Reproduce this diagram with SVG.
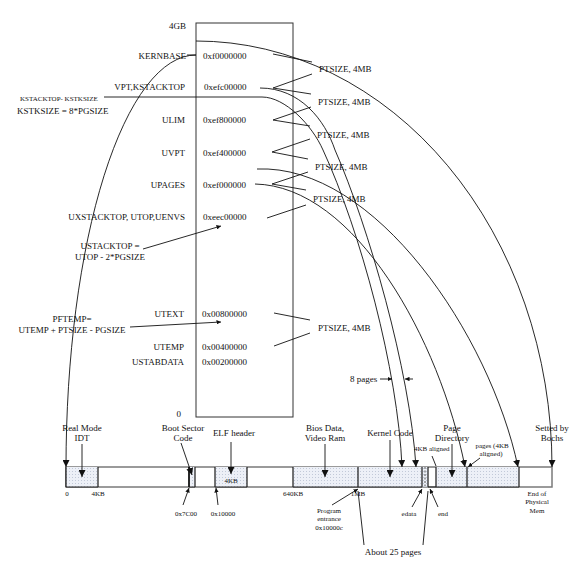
<svg xmlns="http://www.w3.org/2000/svg" width="588" height="568" viewBox="0 0 588 568">
<defs>
<style>
text{font-family:"Liberation Serif","Times New Roman",serif;fill:#111}
.t9{font-size:9px}
.t7{font-size:7px}
.e{text-anchor:end}
.m{text-anchor:middle}
.ln{fill:none;stroke:#111;stroke-width:0.9}
.seg{fill:url(#dots);stroke:none}
.dv{stroke:#1a1a1a;stroke-width:1.2}
.a{marker-end:url(#ah)}
.s{marker-end:url(#sa)}
</style>
<pattern id="dots" width="3" height="3" patternUnits="userSpaceOnUse"><rect width="3" height="3" fill="#edf0f7"/><rect width="1" height="1" fill="#c2c9d8"/></pattern>
<marker id="ah" viewBox="0 0 10 10" refX="10" refY="5" markerWidth="7" markerHeight="7" markerUnits="userSpaceOnUse" orient="auto"><path d="M0,0 L10,5 L0,10 z" fill="#111"/></marker>
<marker id="sa" viewBox="0 0 10 10" refX="10" refY="5" markerWidth="4.5" markerHeight="4.5" markerUnits="userSpaceOnUse" orient="auto"><path d="M0,0 L10,5 L0,10 z" fill="#111"/></marker>
</defs>
<rect width="588" height="568" fill="#fff"/>

<g id="virtual-memory">
<rect x="196" y="23" width="97" height="394" fill="none" stroke="#333" stroke-width="1"/>
<text class="t9 e" x="186" y="29">4GB</text>
<text class="t9 e" x="186" y="59">KERNBASE</text>
<text class="t9 e" x="185" y="90">VPT,KSTACKTOP</text>
<text class="t9 e" x="185" y="123">ULIM</text>
<text class="t9 e" x="185" y="156">UVPT</text>
<text class="t9 e" x="185" y="188">UPAGES</text>
<text class="t9 e" x="185" y="220">UXSTACKTOP, UTOP,UENVS</text>
<text class="t9 e" x="184" y="317">UTEXT</text>
<text class="t9 e" x="184" y="350">UTEMP</text>
<text class="t9 e" x="184" y="365">USTABDATA</text>
<text class="t9 e" x="181" y="417">0</text>
<text class="t9" x="203" y="59">0xf0000000</text>
<text class="t9" x="204" y="90">0xefc00000</text>
<text class="t9" x="203" y="123">0xef800000</text>
<text class="t9" x="203" y="156">0xef400000</text>
<text class="t9" x="203" y="188">0xef000000</text>
<text class="t9" x="203" y="220">0xeec00000</text>
<text class="t9" x="202" y="317">0x00800000</text>
<text class="t9" x="202" y="350">0x00400000</text>
<text class="t9" x="202" y="365">0x00200000</text>
</g>

<g id="side-notes">
<text class="t7" x="20" y="100.5">KSTACKTOP- KSTKSIZE</text>
<text class="t9" x="17" y="114">KSTKSIZE = 8*PGSIZE</text>
<text class="t9 m" x="110" y="249">USTACKTOP =</text>
<text class="t9 m" x="110" y="260">UTOP - 2*PGSIZE</text>
<text class="t9 m" x="72" y="322">PFTEMP=</text>
<text class="t9 m" x="72" y="333">UTEMP + PTSIZE - PGSIZE</text>
</g>

<g id="ptsize-labels">
<text class="t9" x="319" y="72">PTSIZE, 4MB</text>
<text class="t9" x="318" y="105">PTSIZE, 4MB</text>
<text class="t9" x="317" y="138">PTSIZE, 4MB</text>
<text class="t9" x="315" y="170">PTSIZE, 4MB</text>
<text class="t9" x="313" y="202">PTSIZE, 4MB</text>
<text class="t9" x="318" y="331">PTSIZE, 4MB</text>
<text class="t9" x="350" y="382">8 pages</text>
</g>

<g id="physical-memory">
<rect x="66" y="467" width="486" height="20" fill="#fff" stroke="#7a7a7a" stroke-width="1.5"/>
<rect class="seg" x="66" y="467" width="32" height="20"/>
<rect class="seg" x="189" y="467" width="6" height="20"/>
<rect class="seg" x="215" y="467" width="32" height="20"/>
<rect class="seg" x="293" y="467" width="129" height="20"/>
<rect class="seg" x="422" y="467" width="6" height="20"/>
<rect class="seg" x="436" y="467" width="83" height="20"/>
<path class="dv" d="M66,467V487M98,467V487M195,467V487M215,467V487M247,467V487M293,467V487M358,467V487M422,467V487M428,467V487M436,467V487M467,467V487M519,467V487"/>
<path d="M189,467V487" stroke="#111" stroke-width="1.8"/>
<path d="M425,467V487" stroke="#333" stroke-width="0.8" stroke-dasharray="2,1.5"/>
<path d="M66,487H98M189,487H195M215,487H247M293,487H422M428,487H519" stroke="#222" stroke-width="1"/>
<text class="t7 m" x="231" y="483">4KB</text>
<text class="t7 m" x="67" y="496">0</text>
<text class="t7 m" x="98" y="496">4KB</text>
<text class="t7 m" x="293" y="496">640KB</text>
<text class="t7 m" x="358" y="496">1MB</text>
<text class="t7 m" x="186" y="515.5">0x7C00</text>
<text class="t7 m" x="223" y="515.5">0x10000</text>
<text class="t7 m" x="329" y="512.5">Program</text>
<text class="t7 m" x="329" y="521">entrance</text>
<text class="t7 m" x="329" y="529.5">0x10000c</text>
<text class="t7 m" x="409" y="515.5">edata</text>
<text class="t7 m" x="443" y="515.5">end</text>
<text class="t7 m" x="537" y="495.5">End of</text>
<text class="t7 m" x="537" y="504">Physical</text>
<text class="t7 m" x="537" y="512.5">Mem</text>
<text class="t7" x="414" y="450.5">4KB aligned</text>
<text class="t7 m" x="492" y="447.5">pages (4KB</text>
<text class="t7 m" x="491" y="455.5">aligned)</text>
<text class="t9 m" x="393" y="555">About 25 pages</text>
</g>

<g id="region-labels">
<text class="t9 m" x="82" y="431">Real Mode</text>
<text class="t9 m" x="82" y="441">IDT</text>
<text class="t9 m" x="183" y="431">Boot Sector</text>
<text class="t9 m" x="183" y="441">Code</text>
<text class="t9 m" x="234" y="436">ELF header</text>
<text class="t9 m" x="325" y="431">Bios Data,</text>
<text class="t9 m" x="325" y="441">Video Ram</text>
<text class="t9 m" x="390" y="436">Kernel Code</text>
<text class="t9 m" x="452" y="431">Page</text>
<text class="t9 m" x="452" y="441">Directory</text>
<text class="t9 m" x="552" y="431">Setted by</text>
<text class="t9 m" x="552" y="441">Bochs</text>
</g>

<g id="connectors">
<path class="ln" d="M273,54L312,62M273,88L312,74M273,88L311,94M273,120L311,107M273,120L310,126M272,152L310,139M272,152L308,159M272,184L308,172M272,184L306,190M267,218L306,205M274,313L310,320M274,346L310,333"/>
<path class="ln a" d="M196,41A356,426 0 0 1 552,467"/>
<path class="ln a" d="M187,55H196M196,55A130,412 0 0 0 66,467"/>
<path class="ln a" d="M260,88C300,88 325,120 335,150C368,225 410,370 416,467"/>
<path class="ln a" d="M104,97H262C285,97 312,125 323,150C360,230 398,370 402,467"/>
<path class="ln a" d="M257,169C375,164 490,335 518,467"/>
<path class="ln a" d="M255,184C355,186 440,340 465,467"/>
<path class="ln s" d="M143,249L221,226"/>
<path class="ln s" d="M130,327L221,322"/>
<path class="ln a" d="M82,444V477"/>
<path class="ln a" d="M181,443L192,475"/>
<path class="ln a" d="M231,442V474"/>
<path class="ln a" d="M325,444V477"/>
<path class="ln a" d="M390,440V477"/>
<path class="ln a" d="M452,444V477"/>
<path class="ln" d="M432,456L436,466"/>
<path class="ln s" d="M480,458L468,467"/>
<path class="ln s" d="M183,505L189,488"/>
<path class="ln s" d="M218,505L216,488"/>
<path class="ln s" d="M332,505L358,489"/>
<path class="ln s" d="M412,507L422,489"/>
<path class="ln s" d="M438,507L430,489"/>
<path class="ln" d="M364,545L358,491M423,545L428,491"/>
<path class="ln s" d="M380,379H392"/>
<path class="ln s" d="M413,379H405"/>
</g>
</svg>
